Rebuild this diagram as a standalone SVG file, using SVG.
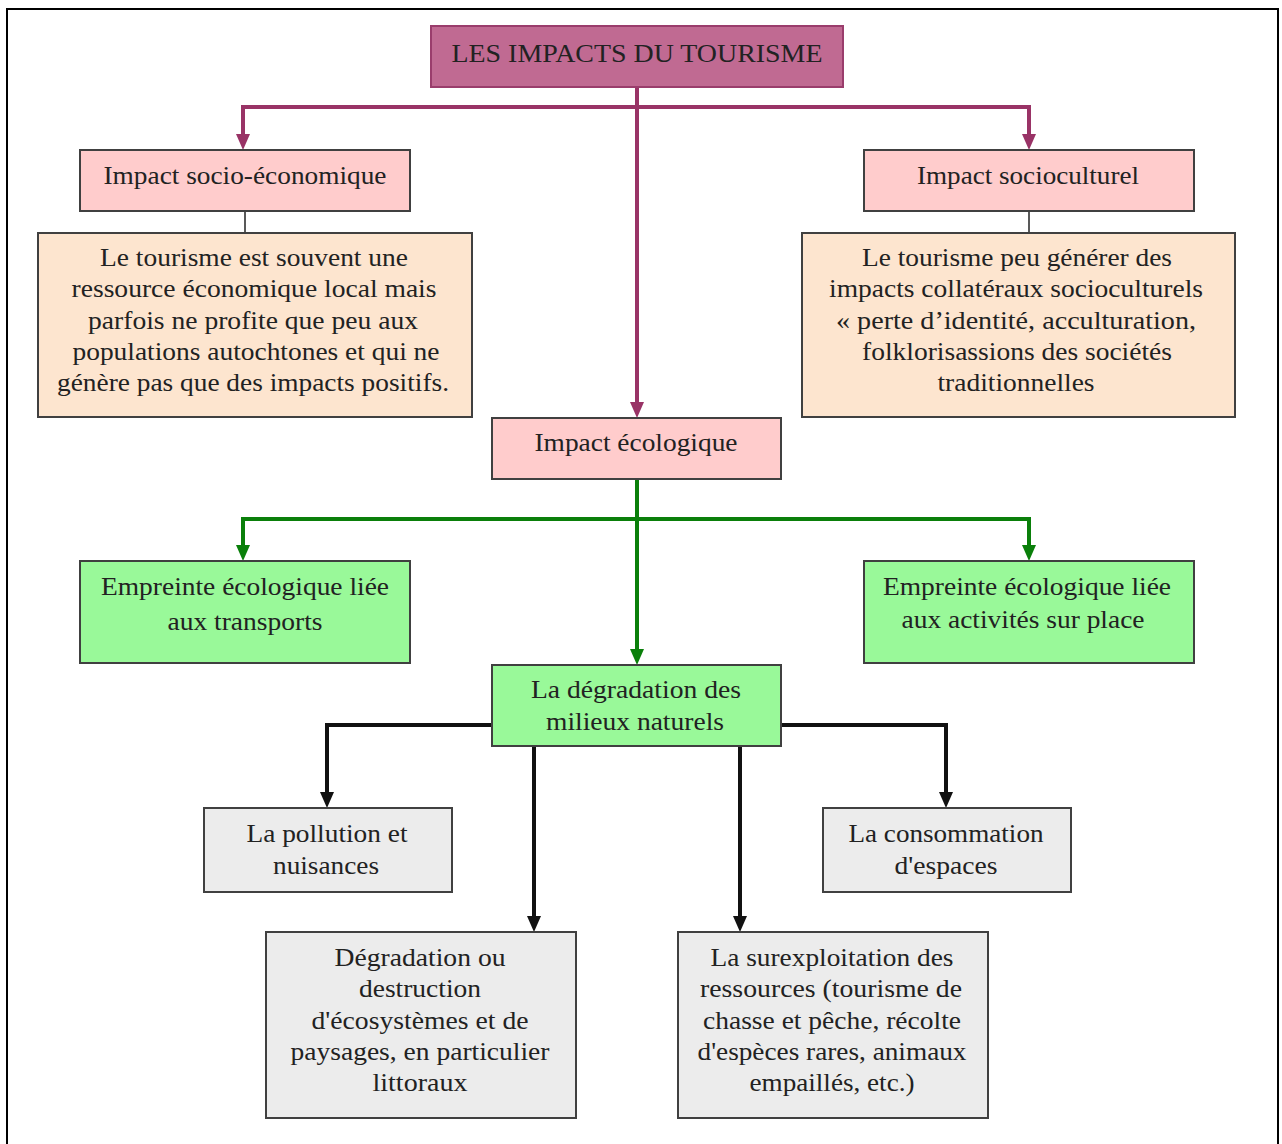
<svg xmlns="http://www.w3.org/2000/svg" width="1282" height="1144" viewBox="0 0 1282 1144">
<style>
text{font-family:'Liberation Serif','DejaVu Serif','Noto Serif',serif;font-size:25px;fill:#222;text-anchor:middle;}
.box{stroke:#404040;stroke-width:2;}
.title{fill:#c06a92;stroke:#9a3d6c;stroke-width:2;}
.pink{fill:#ffcccc;}
.peach{fill:#fde5cf;}
.green{fill:#99f999;}
.grey{fill:#ececec;}
.pc{fill:none;stroke:#993366;stroke-width:4;}
.gc{fill:none;stroke:#0a7f0a;stroke-width:4;}
.bc{fill:none;stroke:#111;stroke-width:4;}
.tc{fill:none;stroke:#222;stroke-width:1.5;}
</style>
<defs>
<marker id="ap" markerUnits="userSpaceOnUse" markerWidth="16" markerHeight="14" refX="6" refY="7" orient="auto"><path d="M0,0 L16,7 L0,14 z" fill="#993366"/></marker>
<marker id="ag" markerUnits="userSpaceOnUse" markerWidth="16" markerHeight="14" refX="6" refY="7" orient="auto"><path d="M0,0 L16,7 L0,14 z" fill="#0a7f0a"/></marker>
<marker id="ab" markerUnits="userSpaceOnUse" markerWidth="16" markerHeight="14" refX="6" refY="7" orient="auto"><path d="M0,0 L16,7 L0,14 z" fill="#111"/></marker>
</defs>
<rect x="0" y="0" width="1282" height="1144" fill="#fff"/>
<rect x="7" y="9" width="1271" height="1150" fill="none" stroke="#000" stroke-width="2"/>

<g id="connectors">
<path class="pc" d="M637,87 V408" marker-end="url(#ap)"/>
<path class="pc" d="M637,107 H243 V140" marker-end="url(#ap)"/>
<path class="pc" d="M637,107 H1029 V140" marker-end="url(#ap)"/>
<path class="tc" d="M245,211 V233"/>
<path class="tc" d="M1029,211 V233"/>
<path class="gc" d="M637,479 V655" marker-end="url(#ag)"/>
<path class="gc" d="M637,519 H243 V551" marker-end="url(#ag)"/>
<path class="gc" d="M637,519 H1029 V551" marker-end="url(#ag)"/>
<path class="bc" d="M492,725 H327 V798" marker-end="url(#ab)"/>
<path class="bc" d="M781,725 H946 V798" marker-end="url(#ab)"/>
<path class="bc" d="M534,746 V922" marker-end="url(#ab)"/>
<path class="bc" d="M740,746 V922" marker-end="url(#ab)"/>
</g>

<g font-family="Liberation Serif, DejaVu Serif, serif">
<g id="n-title">
<rect class="title" x="431" y="26" width="412" height="61"/>
<text x="637" y="62" textLength="371" lengthAdjust="spacingAndGlyphs">LES IMPACTS DU TOURISME</text>
</g>
<g id="n-socioeco">
<rect class="box pink" x="80" y="150" width="330" height="61"/>
<text x="245" y="184" textLength="283" lengthAdjust="spacingAndGlyphs">Impact socio-économique</text>
</g>
<g id="n-sociocult">
<rect class="box pink" x="864" y="150" width="330" height="61"/>
<text x="1028" y="184" textLength="222" lengthAdjust="spacingAndGlyphs">Impact socioculturel</text>
</g>
<g id="n-socioeco-desc">
<rect class="box peach" x="38" y="233" width="434" height="184"/>
<text x="254" y="266" textLength="308" lengthAdjust="spacingAndGlyphs">Le tourisme est souvent une</text>
<text x="254" y="297" textLength="365" lengthAdjust="spacingAndGlyphs">ressource économique local mais</text>
<text x="253" y="329" textLength="330" lengthAdjust="spacingAndGlyphs">parfois ne profite que peu aux</text>
<text x="256" y="360" textLength="367" lengthAdjust="spacingAndGlyphs">populations autochtones et qui ne</text>
<text x="253" y="391" textLength="392" lengthAdjust="spacingAndGlyphs">génère pas que des impacts positifs.</text>
</g>
<g id="n-sociocult-desc">
<rect class="box peach" x="802" y="233" width="433" height="184"/>
<text x="1017" y="266" textLength="310" lengthAdjust="spacingAndGlyphs">Le tourisme peu générer des</text>
<text x="1016" y="297" textLength="374" lengthAdjust="spacingAndGlyphs">impacts collatéraux socioculturels</text>
<text x="1016" y="329" textLength="360" lengthAdjust="spacingAndGlyphs">« perte d’identité, acculturation,</text>
<text x="1017" y="360" textLength="310" lengthAdjust="spacingAndGlyphs">folklorisassions des sociétés</text>
<text x="1016" y="391" textLength="157" lengthAdjust="spacingAndGlyphs">traditionnelles</text>
</g>
<g id="n-ecolo">
<rect class="box pink" x="492" y="418" width="289" height="61"/>
<text x="636" y="451" textLength="203" lengthAdjust="spacingAndGlyphs">Impact écologique</text>
</g>
<g id="n-empreinte-transports">
<rect class="box green" x="80" y="561" width="330" height="102"/>
<text x="245" y="595" textLength="288" lengthAdjust="spacingAndGlyphs">Empreinte écologique liée</text>
<text x="245" y="630" textLength="155" lengthAdjust="spacingAndGlyphs">aux transports</text>
</g>
<g id="n-empreinte-activites">
<rect class="box green" x="864" y="561" width="330" height="102"/>
<text x="1027" y="595" textLength="288" lengthAdjust="spacingAndGlyphs">Empreinte écologique liée</text>
<text x="1023" y="628" textLength="243" lengthAdjust="spacingAndGlyphs">aux activités sur place</text>
</g>
<g id="n-degradation-milieux">
<rect class="box green" x="492" y="665" width="289" height="81"/>
<text x="636" y="698" textLength="210" lengthAdjust="spacingAndGlyphs">La dégradation des</text>
<text x="635" y="730" textLength="178" lengthAdjust="spacingAndGlyphs">milieux naturels</text>
</g>
<g id="n-pollution">
<rect class="box grey" x="204" y="808" width="248" height="84"/>
<text x="327" y="842" textLength="161" lengthAdjust="spacingAndGlyphs">La pollution et</text>
<text x="326" y="874" textLength="106" lengthAdjust="spacingAndGlyphs">nuisances</text>
</g>
<g id="n-consommation">
<rect class="box grey" x="823" y="808" width="248" height="84"/>
<text x="946" y="842" textLength="195" lengthAdjust="spacingAndGlyphs">La consommation</text>
<text x="946" y="874" textLength="103" lengthAdjust="spacingAndGlyphs">d'espaces</text>
</g>
<g id="n-destruction">
<rect class="box grey" x="266" y="932" width="310" height="186"/>
<text x="420" y="966" textLength="171" lengthAdjust="spacingAndGlyphs">Dégradation ou</text>
<text x="420" y="997" textLength="122" lengthAdjust="spacingAndGlyphs">destruction</text>
<text x="420" y="1029" textLength="217" lengthAdjust="spacingAndGlyphs">d'écosystèmes et de</text>
<text x="420" y="1060" textLength="259" lengthAdjust="spacingAndGlyphs">paysages, en particulier</text>
<text x="420" y="1091" textLength="95" lengthAdjust="spacingAndGlyphs">littoraux</text>
</g>
<g id="n-surexploitation">
<rect class="box grey" x="678" y="932" width="310" height="186"/>
<text x="832" y="966" textLength="243" lengthAdjust="spacingAndGlyphs">La surexploitation des</text>
<text x="831" y="997" textLength="262" lengthAdjust="spacingAndGlyphs">ressources (tourisme de</text>
<text x="832" y="1029" textLength="258" lengthAdjust="spacingAndGlyphs">chasse et pêche, récolte</text>
<text x="832" y="1060" textLength="269" lengthAdjust="spacingAndGlyphs">d'espèces rares, animaux</text>
<text x="832" y="1091" textLength="165" lengthAdjust="spacingAndGlyphs">empaillés, etc.)</text>
</g>
</g>
</svg>
